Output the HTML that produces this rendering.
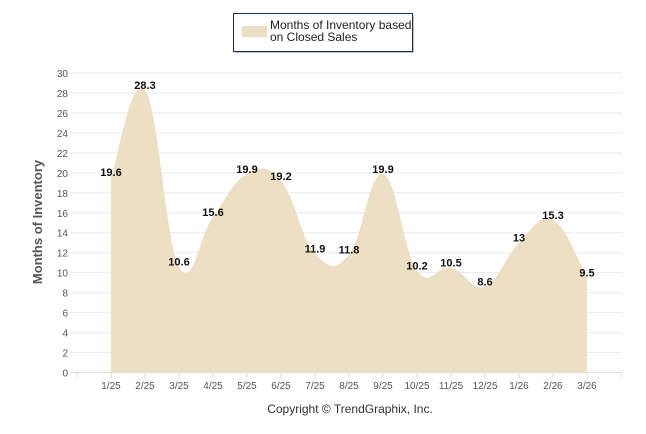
<!DOCTYPE html>
<html><head><meta charset="utf-8"><style>
body{margin:0;background:#fff;font-family:"Liberation Sans",Arial,sans-serif}
svg{display:block}
</style></head><body>
<svg id="chart" width="646" height="434">
 <g>
  <rect x="235" y="15" width="179" height="38" fill="#888" opacity="0.5"/>
  <rect x="233.5" y="13.5" width="179" height="38" fill="#fff" stroke="#1f3050" stroke-width="1"/>
  <rect x="242" y="26" width="25" height="11" fill="#ecdfc4"/>
  <text x="270" y="29" font-size="12" fill="#222">Months of Inventory based</text>
  <text x="270" y="41" font-size="12" fill="#222">on Closed Sales</text>
 </g>
 <g id="grid"></g>
 <path id="area" fill="#ecdfc4"/>
 <g id="labels"></g>
 <g id="xax"></g>
 <text x="42" y="222" transform="rotate(-90 42 222)" text-anchor="middle" font-size="13" font-weight="bold" fill="#555">Months of Inventory</text>
 <text x="350" y="413" text-anchor="middle" font-size="12" fill="#333">Copyright © TrendGraphix, Inc.</text>
</svg>
<script>
const categories=["1/25","2/25","3/25","4/25","5/25","6/25","7/25","8/25","9/25","10/25","11/25","12/25","1/26","2/26","3/26"];
const values=[19.6,28.3,10.6,15.6,19.9,19.2,11.9,11.8,19.9,10.2,10.5,8.6,13,15.3,9.5];
const yTicks=[0,2,4,6,8,10,12,14,16,18,20,22,24,26,28,30];
const NS="http://www.w3.org/2000/svg";
const x=i=>111+34*i;
const y=v=>372.5-v*(299.5/30);
function mk(t,a,p){const e=document.createElementNS(NS,t);for(const k in a)e.setAttribute(k,a[k]);p.appendChild(e);return e;}
const grid=document.getElementById('grid');
yTicks.forEach(t=>{
 const l=mk('line',{x1:70,x2:622,y1:y(t),y2:y(t),stroke:t===0?'#ddd':'#ececec','stroke-width':1},grid);
 
 
 const tx=mk('text',{x:68,y:y(t)+4,'text-anchor':'end','font-size':10,fill:'#555'},grid);
 tx.textContent=t;
 
 
});
const xax=document.getElementById('xax');
for(let i=-1;i<=15;i++){mk('line',{x1:x(i),x2:x(i),y1:372.5,y2:378,stroke:'#ddd'},xax);}
categories.forEach((c,i)=>{
 const t=mk('text',{x:x(i),y:389,'text-anchor':'middle','font-size':10,fill:'#555'},xax);
 t.textContent=c;
 
 
});
const P=values.map((v,i)=>[x(i),y(v)]);
let d=`M${P[0][0]},${y(0)}L${P[0][0]},${P[0][1]}`;
const s=0.2;
for(let i=0;i<P.length-1;i++){
 const p0=P[Math.max(0,i-1)],p1=P[i],p2=P[i+1],p3=P[Math.min(P.length-1,i+2)];
 const c1=[p1[0]+(p2[0]-p0[0])*s,p1[1]+(p2[1]-p0[1])*s];
 const c2=[p2[0]-(p3[0]-p1[0])*s,p2[1]-(p3[1]-p1[1])*s];
 d+=`C${c1[0]},${c1[1]} ${c2[0]},${c2[1]} ${p2[0]},${p2[1]}`;
}
d+=`L${P[P.length-1][0]},${y(0)}Z`;
document.getElementById('area').setAttribute('d',d);
const lab=document.getElementById('labels');
values.forEach((v,i)=>{
 const t=mk('text',{x:x(i),y:y(v)-1,'text-anchor':'middle','font-size':11,'font-weight':'bold',fill:'#111'},lab);
 t.textContent=v;
 
 
});
</script>
</body></html>
